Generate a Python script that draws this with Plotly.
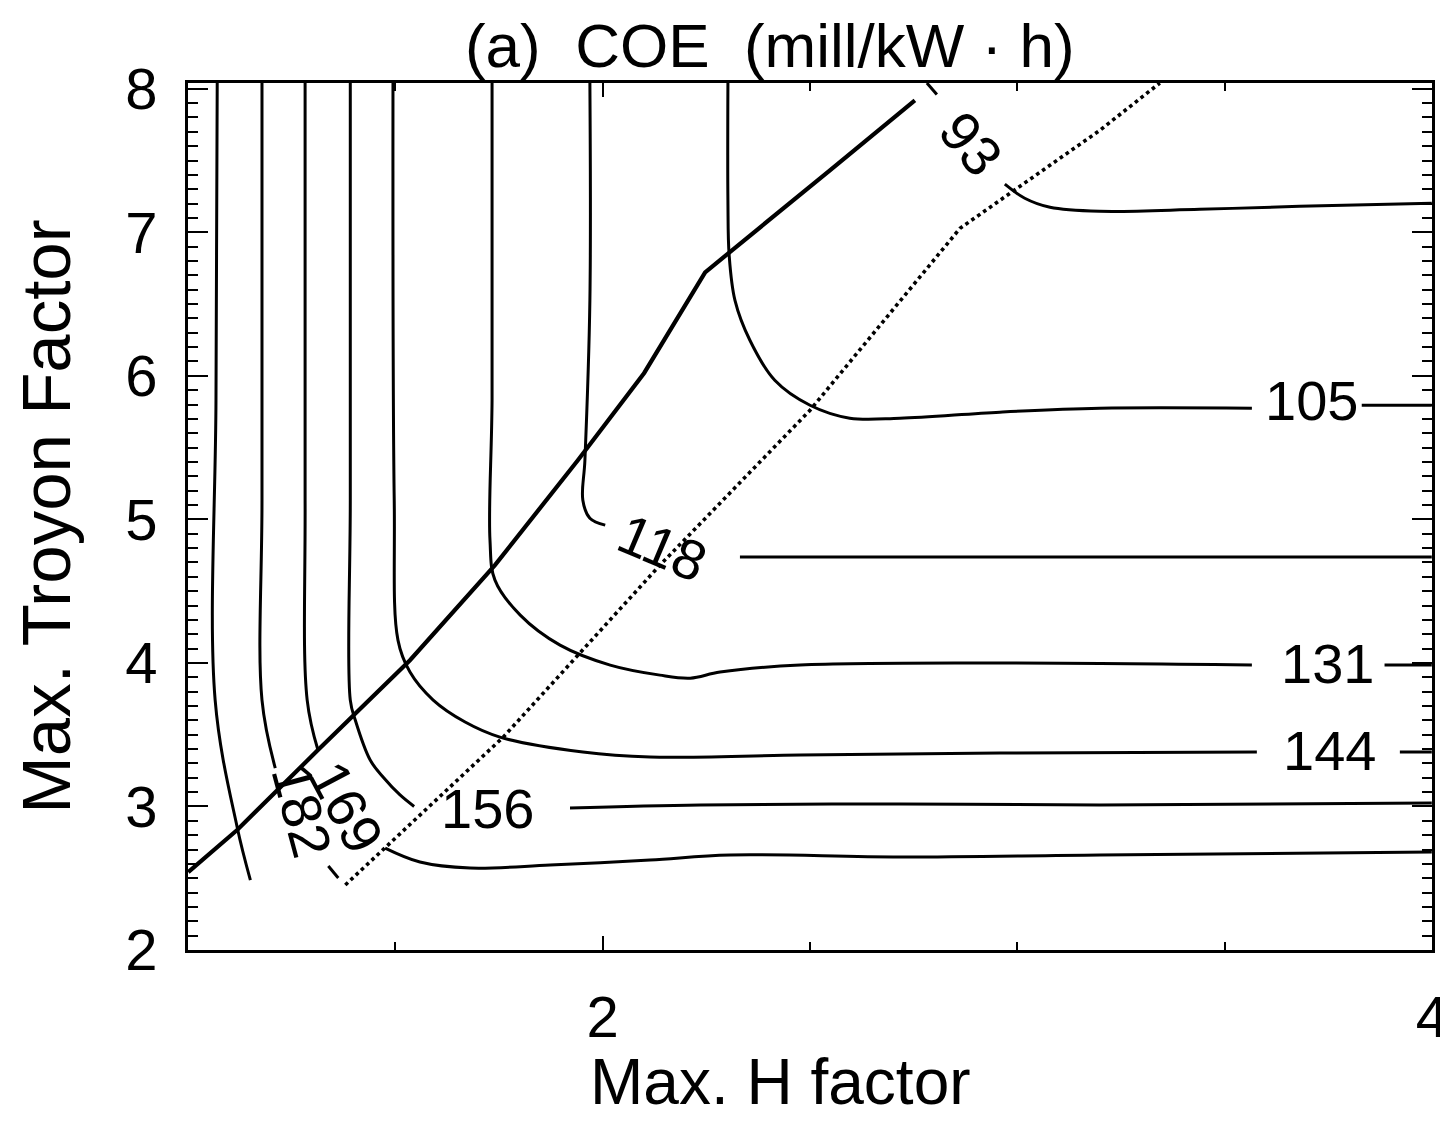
import plotly.graph_objects as go

# ---- data (x = Max. H factor, y = Max. Troyon factor) ----
N = None
c195_x = [1.070, 1.067, 1.065, 1.118, 1.150]
c195_y = [8.04, 5.830, 3.741, 2.857, 2.487]

c182_x = [1.178, 1.178, 1.178, 1.210, N, 1.338, 1.362]
c182_y = [8.04, 5.134, 3.741, 3.267, N, 2.585, 2.501]

c169_x = [1.282, 1.282, 1.287, 1.313, N, 1.475, 1.559, 1.680, 1.873, 2.114, 2.307, 2.717, 3.199, 4.0]
c169_y = [8.04, 5.134, 3.741, 3.393, N, 2.710, 2.613, 2.571, 2.592, 2.627, 2.662, 2.648, 2.662, 2.682]

c156_x = [1.391, 1.391, 1.391, 1.403, 1.439, 1.470, 1.511, 1.545, N, 1.921, 2.235, 2.717, 3.199, 4.0]
c156_y = [8.04, 5.134, 3.741, 3.602, 3.323, 3.205, 3.080, 3.000, N, 2.989, 3.010, 3.017, 3.010, 3.024]

c144_x = [1.494, 1.497, 1.506, 1.535, 1.591, 1.668, 1.752, 1.952, 2.114, 2.476, 2.958, 3.578, N, 3.923, 4.0]
c144_y = [8.04, 5.134, 4.159, 3.936, 3.741, 3.588, 3.483, 3.379, 3.344, 3.358, 3.372, 3.379, N, 3.379, 3.379]

c131_x = [1.733, 1.733, 1.728, 1.740, 1.801, 1.897, 2.018, 2.138, 2.211, 2.283, 2.476, 2.958, 3.566, N, 3.886, 4.0]
c131_y = [8.04, 5.830, 4.855, 4.577, 4.333, 4.124, 3.985, 3.915, 3.894, 3.936, 3.985, 3.999, 3.985, N, 3.985, 3.985]

c118_x = [1.969, 1.969, 1.957, 1.952, 1.969, 2.006, N, 2.331, 2.717, 3.199, 4.0]
c118_y = [8.04, 6.526, 5.412, 5.134, 5.008, 4.960, N, 4.737, 4.737, 4.737, 4.737]

c105_x = [2.302, 2.302, 2.305, 2.319, 2.355, 2.415, 2.500, 2.596, 2.717, 2.958, 3.199, 3.566, N, 3.831, 4.0]
c105_y = [8.04, 7.223, 6.840, 6.526, 6.248, 5.969, 5.795, 5.705, 5.705, 5.747, 5.774, 5.774, N, 5.795, 5.795]

c93_x = [2.782, 2.806, N, 2.970, 3.018, 3.079, 3.199, 3.440, 3.681, 4.0]
c93_y = [8.04, 7.96, N, 7.335, 7.237, 7.174, 7.146, 7.160, 7.181, 7.202]

boundary_x = [1.0, 1.118, 1.313, 1.535, 1.740, 1.940, 2.100, 2.247, 2.548, 2.753]
boundary_y = [2.543, 2.836, 3.393, 4.019, 4.681, 5.412, 6.020, 6.721, 7.432, 7.919]

dotted_x = [1.379, 1.760, 2.138, 2.500, 2.862, 3.199, 3.344]
dotted_y = [2.453, 3.483, 4.681, 5.760, 7.028, 7.710, 8.04]

label_text = ["93", "105", "118", "131", "144", "156", "169", "182"]
label_x = [2.888, 3.710, 2.143, 3.749, 3.754, 1.723, 1.383, 1.275]
label_y = [7.620, 5.830, 4.806, 3.999, 3.393, 2.989, 2.996, 2.975]
label_angle = [50, 0, 23, 0, 0, 0, 62, 75]

x_ticks = [2, 4]
y_ticks = [2, 3, 4, 5, 6, 7, 8]

FONT = "Liberation Sans, Arial, sans-serif"
NB = "\u00a0"

fig = go.Figure()
contours = [(c195_x, c195_y), (c182_x, c182_y), (c169_x, c169_y), (c156_x, c156_y),
            (c144_x, c144_y), (c131_x, c131_y), (c118_x, c118_y), (c105_x, c105_y),
            (c93_x, c93_y)]
for cx, cy in contours:
    fig.add_trace(go.Scatter(x=cx, y=cy, mode="lines", line=dict(color="black", width=3),
                             line_shape="spline", connectgaps=False, showlegend=False,
                             hoverinfo="skip", cliponaxis=True))
fig.add_trace(go.Scatter(x=boundary_x, y=boundary_y, mode="lines",
                         line=dict(color="black", width=4.2), showlegend=False, hoverinfo="skip"))
fig.add_trace(go.Scatter(x=dotted_x, y=dotted_y, mode="lines",
                         line=dict(color="black", width=3.6, dash="dot"), showlegend=False,
                         hoverinfo="skip"))

for t, lx, ly, a in zip(label_text, label_x, label_y, label_angle):
    fig.add_annotation(x=lx, y=ly, text=t, showarrow=False, textangle=a,
                       font=dict(family=FONT, size=56, color="black"))

# x-axis title as text placed under the axis
fig.add_annotation(x=0.476, y=-0.152, xref="paper", yref="paper", text="Max. H factor",
                   showarrow=False, xanchor="center", yanchor="middle",
                   font=dict(family=FONT, size=64, color="black"))

axis_common = dict(showgrid=False, zeroline=False, showline=True, linecolor="black",
                   linewidth=3, mirror="ticks", ticks="inside", tickcolor="black",
                   automargin=False,
                   tickfont=dict(family=FONT, size=58, color="black"))

fig.update_xaxes(range=[0.9995, 4.0005], tickvals=x_ticks, ticklen=14, tickwidth=2,
                 ticklabelstandoff=14,
                 minor=dict(dtick=0.5, tick0=1, ticks="inside", ticklen=8, tickcolor="black", tickwidth=2),
                 **axis_common)
fig.update_yaxes(range=[2, 8.04], tickvals=y_ticks, ticklen=20, tickwidth=2,
                 ticklabelstandoff=16,
                 minor=dict(dtick=0.1, tick0=2, ticks="inside", ticklen=10, tickcolor="black", tickwidth=2),
                 title=dict(text="Max. Troyon Factor", font=dict(family=FONT, size=69, color="black"),
                            standoff=32),
                 **axis_common)

# the page adds an 8 px body margin, so the figure is 8 px smaller and margins shifted
fig.update_layout(
    width=1440, height=1116,
    margin=dict(l=180, r=16, t=75, b=174),
    paper_bgcolor="white", plot_bgcolor="white",
    title=dict(text=f"(a){NB}{NB}COE{NB}{NB}(mill/kW{NB}·{NB}h)", x=0.529, xanchor="center",
               xref="container", y=0.967, yanchor="middle", yref="container",
               font=dict(family=FONT, size=62, color="black")),
)

fig.write_html("out.html")
